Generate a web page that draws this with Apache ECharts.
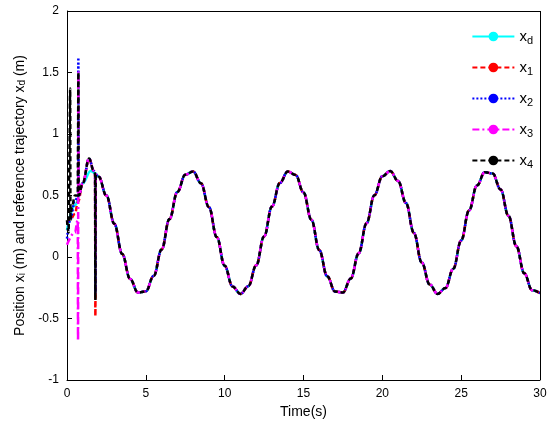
<!DOCTYPE html><html><head><meta charset="utf-8"><script src="https://cdn.jsdelivr.net/npm/echarts@6/dist/echarts.min.js"></script></head><body style="margin:0"><div id="c" style="width:550px;height:427px"></div><script>
const tailT=[2,2.5,3,3.5,4,4.5,5,5.5,6,6.5,7,7.5,8,8.5,9,9.5,10,10.5,11,11.5,12,12.5,13,13.5,14,14.5,15,15.5,16,16.5,17,17.5,18,18.5,19,19.5,20,20.5,21,21.5,22,22.5,23,23.5,24,24.5,25,25.5,26,26.5,27,27.5,28,28.5,29,29.5,30];
const tailY=[0.655,0.499,0.271,0.025,-0.178,-0.289,-0.279,-0.153,0.06,0.308,0.529,0.669,0.695,0.599,0.406,0.162,-0.072,-0.24,-0.3,-0.238,-0.068,0.167,0.41,0.602,0.695,0.667,0.525,0.303,0.056,-0.156,-0.281,-0.289,-0.175,0.03,0.275,0.503,0.656,0.699,0.618,0.439,0.196,-0.045,-0.223,-0.3,-0.253,-0.096,0.134,0.379,0.581,0.69,0.678,0.549,0.335,0.088,-0.132,-0.27,-0.294];
const xdT=[0,0.5,1,1.5,1.8],xdY=[0.22,0.42,0.6,0.7,0.68];
const x1T=[0,0.2,0.5,0.7,1.0,1.4,1.7,1.78,1.8,1.82],x1Y=[0.27,0.3,0.35,0.45,0.6,0.8,0.7,0.68,-0.48,0.67];
const x2T=[0,0.2,0.5,0.7,0.72,0.74,1.0,1.4,1.7,1.78,1.8,1.82],x2Y=[0.15,0.3,0.45,0.5,1.62,0.5,0.6,0.8,0.7,0.68,-0.3,0.67];
const x3T=[0,0.5,0.68,0.7,0.72,0.74,1.0,1.4,1.7,1.78,1.8,1.82],x3Y=[0.1,0.2,0.3,-0.68,1.5,0.5,0.6,0.8,0.7,0.68,0.0,0.67];
const x4T=[0,0.1,0.15,0.2,0.22,0.3,0.5,0.68,0.7,0.72,0.74,1.0,1.4,1.7,1.78,1.8,1.82],x4Y=[0.3,0.2,0.8,1.37,0.3,0.4,0.5,0.5,0.9,1.5,0.5,0.6,0.8,0.7,0.68,-0.35,0.67];
const names=['x_d','x_1','x_2','x_3','x_4'];
const colors=['#00ffff','#ff0000','#0000ff','#ff00ff','#000000'];
const dashes=['solid',[5,3],[2,2],[7,3,2,3],[5,3]];
const pts=(t,y)=>t.map((v,i)=>[v,y[i]]).concat(tailT.map((v,i)=>[v,tailY[i]]));
const sets=[[xdT,xdY],[x1T,x1Y],[x2T,x2Y],[x3T,x3Y],[x4T,x4Y]];
const rich={a:{fontSize:15,fontFamily:'Arial',color:'#000'},s:{fontSize:11,fontFamily:'Arial',color:'#000',verticalAlign:'bottom',padding:[8,0,0,0]}};
const chart=echarts.init(document.getElementById('c'));
chart.setOption({animation:false,
grid:{left:67,right:10,top:11,bottom:47},
legend:{orient:'vertical',right:12,top:24,itemWidth:42,itemHeight:12,itemGap:14,
 data:names,formatter:n=>{const p=n.split('_');return '{a|'+p[0]+'}{s|'+p[1]+'}';},textStyle:{rich}},
xAxis:{type:'value',min:0,max:30,interval:5,name:'Time(s)',nameLocation:'middle',nameGap:22,
 nameTextStyle:{fontSize:14,fontFamily:'Arial',color:'#000'},
 axisLine:{show:true,onZero:false,lineStyle:{color:'#000'}},axisTick:{inside:true,lineStyle:{color:'#000'}},
 axisLabel:{color:'#000',fontSize:12,fontFamily:'Arial'},splitLine:{show:false}},
yAxis:{type:'value',min:-1,max:2,interval:0.5,name:'{a|Position x}{s|i}{a| (m) and reference trajectory x}{s|d}{a| (m)}',
 nameLocation:'middle',nameGap:35,nameRotate:90,nameTextStyle:{rich:{a:{fontSize:14,fontFamily:'Arial',color:'#000'},s:{fontSize:10,fontFamily:'Arial',color:'#000',verticalAlign:'bottom'}}},
 axisLine:{show:true,onZero:false,lineStyle:{color:'#000'}},axisTick:{inside:true,lineStyle:{color:'#000'}},
 axisLabel:{color:'#000',fontSize:12,fontFamily:'Arial'},splitLine:{show:false}},
series:names.map((n,i)=>({name:n,type:'line',showSymbol:false,symbol:'none',smooth:0.4,smoothMonotone:'x',data:pts(sets[i][0],sets[i][1]),
 color:colors[i],lineStyle:{color:colors[i],width:2.5,type:dashes[i]},z:2+i}))
.concat([{type:'line',data:[],markLine:{silent:true,symbol:'none',label:{show:false},lineStyle:{color:'#000',type:'solid',width:1},
 data:[[{coord:[0,2]},{coord:[30,2]}],[{coord:[30,-1]},{coord:[30,2]}]]}}])
});
</script></body></html>
